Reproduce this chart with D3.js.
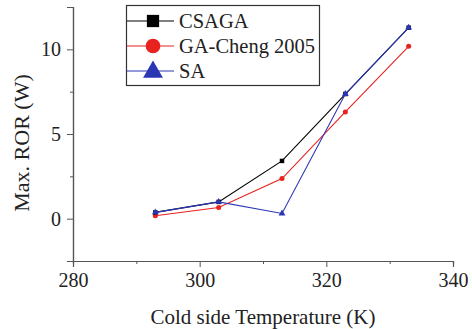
<!DOCTYPE html>
<html><head><meta charset="utf-8">
<script src="https://cdn.jsdelivr.net/npm/d3@7"></script>
<style>body{margin:0;background:#fff}svg{display:block}</style>
</head><body>
<script>
const temps = [293, 303, 313, 323, 333];
const csaga = [0.37, 0.99, 3.41, 7.36, 11.28];
const gaCheng = [0.17, 0.66, 2.37, 6.3, 10.18];
const sa = [0.37, 0.99, 0.31, 7.36, 11.28];
const seriesNames = ["CSAGA", "GA-Cheng 2005", "SA"];
const seriesColors = ["#000000", "#e8231f", "#2a36b4"];
const seriesSymbols = [d3.symbolSquare, d3.symbolCircle, d3.symbolTriangle];
const xTicks = [280, 300, 320, 340];
const xMinor = [290, 310, 330];
const yTicks = [0, 5, 10];
const yMinor = [-2.5, 2.5, 7.5, 12.5];

const W = 472, H = 329;
const svg = d3.select("body").append("svg").attr("width", W).attr("height", H);
const font = "'Liberation Serif','Times New Roman',serif";
const x = d3.scaleLinear().domain([280, 340]).range([73, 453]);
const y = d3.scaleLinear().domain([-2.5, 12.5]).range([261, 7]);
const axisColor = "#555";

// bottom axis
const gx = svg.append("g").attr("transform", `translate(0,${y(-2.5)})`);
gx.call(d3.axisBottom(x).tickValues(xTicks).tickSize(6).tickPadding(6).tickFormat(d3.format("d")));
gx.append("g").call(d3.axisBottom(x).tickValues(xMinor).tickSize(3).tickFormat(""));
// left axis
const gy = svg.append("g").attr("transform", `translate(${x(280)},0)`);
gy.call(d3.axisLeft(y).tickValues(yTicks).tickSize(6).tickPadding(6).tickFormat(d3.format("d")));
gy.append("g").call(d3.axisLeft(y).tickValues(yMinor).tickSize(3).tickFormat(""));
svg.selectAll(".domain").attr("stroke", axisColor).attr("stroke-width", 1.2);
svg.selectAll(".tick line").attr("stroke", axisColor);
svg.selectAll("g").attr("font-family", font);
svg.selectAll(".tick text").attr("font-family", font).attr("font-size", 20).attr("fill", "#222");

// titles
svg.append("text").attr("x", 263).attr("y", 324).attr("text-anchor", "middle")
  .attr("font-family", font).attr("font-size", 21).attr("fill", "#222").text("Cold side Temperature (K)");
svg.append("text").attr("transform", "translate(29,143) rotate(-90)").attr("text-anchor", "middle")
  .attr("font-family", font).attr("font-size", 22).attr("fill", "#222").text("Max. ROR (W)");

const allSeries = [csaga, gaCheng, sa];
const line = d3.line().x((d, i) => x(temps[i])).y(d => y(d));
[1, 0, 2].forEach(si => {
  const vals = allSeries[si];
  svg.append("path").datum(vals).attr("d", line).attr("fill", "none")
    .attr("stroke", seriesColors[si]).attr("stroke-width", 1.1);
  svg.append("g").selectAll("path").data(vals).join("path")
    .attr("transform", (d, i) => `translate(${x(temps[i])},${y(d)})`)
    .attr("d", d3.symbol().type(seriesSymbols[si]).size(20))
    .attr("fill", seriesColors[si]);
});

// legend
const lg = svg.append("g");
lg.append("rect").attr("x", 126.5).attr("y", 5.5).attr("width", 193).attr("height", 80)
  .attr("fill", "#fff").attr("stroke", "#333").attr("stroke-width", 1.2);
const rowsY = [21, 46, 71];
seriesNames.forEach((name, i) => {
  lg.append("line").attr("x1", 127).attr("x2", 174).attr("y1", rowsY[i]).attr("y2", rowsY[i])
    .attr("stroke", seriesColors[i]).attr("stroke-width", 1.2);
  lg.append("path").attr("transform", `translate(153,${rowsY[i] + (i === 2 ? 1 : 0)})`)
    .attr("d", d3.symbol().type(seriesSymbols[i]).size(i === 0 ? 150 : 170))
    .attr("fill", seriesColors[i]);
  lg.append("text").attr("x", 179).attr("y", rowsY[i]).attr("dy", "0.35em")
    .attr("font-family", font).attr("font-size", 20.5).attr("fill", "#222").text(name);
});
</script>
</body></html>
